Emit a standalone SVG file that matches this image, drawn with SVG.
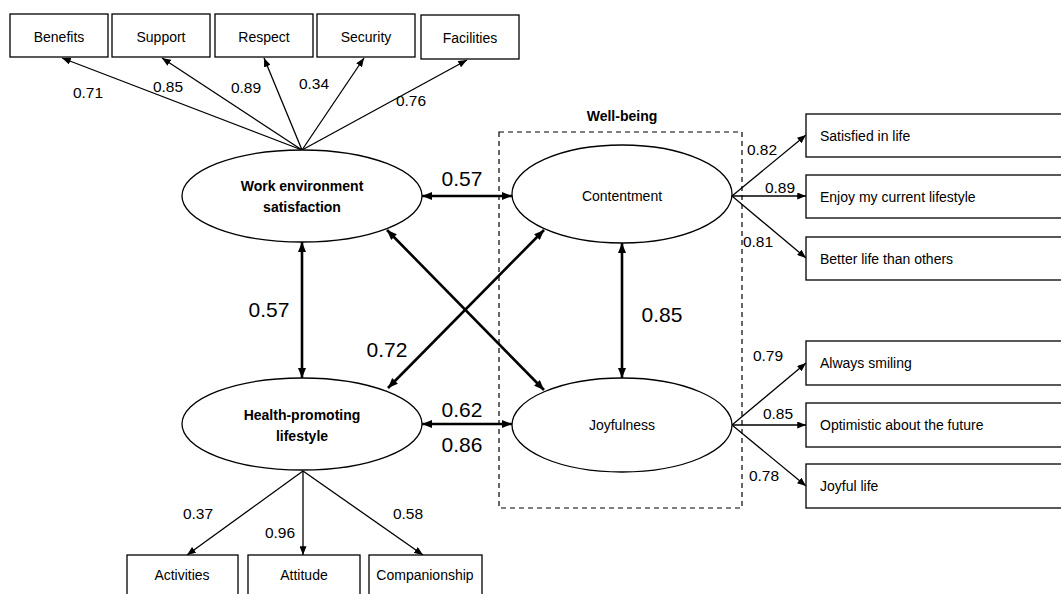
<svg xmlns="http://www.w3.org/2000/svg" width="1061" height="594" viewBox="0 0 1061 594">
<defs>
<style>
text{font-family:"Liberation Sans",Arial,sans-serif;fill:#000}
.box{fill:#fff;stroke:#000;stroke-width:1.3}
.ell{fill:#fff;stroke:#000;stroke-width:1.3}
.lbl{font-size:15.5px}
.nt{font-size:14px}
.big{font-size:21px}
.bold{font-weight:bold}
.thin{stroke:#000;stroke-width:1.3;fill:none;marker-end:url(#ah)}
.thick{stroke:#000;stroke-width:2.6;fill:none;marker-end:url(#ahb);marker-start:url(#ahbs)}
</style>
<marker id="ah" viewBox="0 0 10 8" refX="10" refY="4" markerWidth="9" markerHeight="7" markerUnits="userSpaceOnUse" orient="auto"><path d="M0,0 L10,4 L0,8 z" fill="#000"/></marker>
<marker id="ahb" viewBox="0 0 10 8" refX="10" refY="4" markerWidth="10" markerHeight="8" markerUnits="userSpaceOnUse" orient="auto"><path d="M0,0 L10,4 L0,8 z" fill="#000"/></marker>
<marker id="ahbs" viewBox="0 0 10 8" refX="0" refY="4" markerWidth="10" markerHeight="8" markerUnits="userSpaceOnUse" orient="auto"><path d="M10,0 L0,4 L10,8 z" fill="#000"/></marker>
</defs>
<rect width="1061" height="594" fill="#fff"/>

<g id="wellbeing">
<rect x="499" y="132" width="243" height="376" fill="none" stroke="#000" stroke-width="1.2" stroke-dasharray="5,4"/>
<text x="622" y="121" text-anchor="middle" class="nt bold">Well-being</text>
</g>

<g id="connectors">
<line class="thin" x1="302" y1="150" x2="62" y2="58"/>
<line class="thin" x1="302" y1="150" x2="162" y2="58"/>
<line class="thin" x1="302" y1="150" x2="264" y2="58"/>
<line class="thin" x1="302" y1="150" x2="364" y2="58"/>
<line class="thin" x1="302" y1="150" x2="467" y2="60"/>
<line class="thin" x1="303" y1="471" x2="187" y2="555"/>
<line class="thin" x1="303" y1="471" x2="303" y2="555"/>
<line class="thin" x1="303" y1="471" x2="423" y2="555"/>
<line class="thin" x1="732" y1="196" x2="806" y2="135"/>
<line class="thin" x1="732" y1="196" x2="806" y2="196"/>
<line class="thin" x1="732" y1="196" x2="806" y2="258"/>
<line class="thin" x1="732" y1="425" x2="806" y2="363"/>
<line class="thin" x1="732" y1="425" x2="806" y2="425"/>
<line class="thin" x1="732" y1="425" x2="806" y2="486"/>
<line class="thick" x1="422" y1="196" x2="512" y2="196"/>
<line class="thick" x1="302" y1="242" x2="302" y2="378"/>
<line class="thick" x1="422" y1="424" x2="512" y2="424"/>
<line class="thick" x1="622" y1="243" x2="622" y2="378"/>
<line class="thick" x1="387" y1="230" x2="544" y2="390"/>
<line class="thick" x1="388" y1="388" x2="544" y2="230"/>
<g class="lbl">
<text x="88" y="98" text-anchor="middle">0.71</text>
<text x="168" y="92" text-anchor="middle">0.85</text>
<text x="246" y="93" text-anchor="middle">0.89</text>
<text x="314" y="89" text-anchor="middle">0.34</text>
<text x="411" y="106" text-anchor="middle">0.76</text>
<text x="198" y="519" text-anchor="middle">0.37</text>
<text x="280" y="538" text-anchor="middle">0.96</text>
<text x="408" y="519" text-anchor="middle">0.58</text>
<text x="762" y="155" text-anchor="middle">0.82</text>
<text x="780" y="193" text-anchor="middle">0.89</text>
<text x="758" y="247" text-anchor="middle">0.81</text>
<text x="768" y="361" text-anchor="middle">0.79</text>
<text x="778" y="419" text-anchor="middle">0.85</text>
<text x="764" y="481" text-anchor="middle">0.78</text>
</g>
<g class="big">
<text x="462" y="186" text-anchor="middle">0.57</text>
<text x="269" y="317" text-anchor="middle">0.57</text>
<text x="387" y="357" text-anchor="middle">0.72</text>
<text x="662" y="322" text-anchor="middle">0.85</text>
<text x="462" y="417" text-anchor="middle">0.62</text>
<text x="462" y="452" text-anchor="middle">0.86</text>
</g>
</g>

<g id="benefits"><rect class="box" x="10" y="14" width="98" height="43"/><text class="nt" x="59" y="42" text-anchor="middle">Benefits</text></g>
<g id="support"><rect class="box" x="112" y="14" width="98" height="43"/><text class="nt" x="161" y="42" text-anchor="middle">Support</text></g>
<g id="respect"><rect class="box" x="215" y="14" width="98" height="43"/><text class="nt" x="264" y="42" text-anchor="middle">Respect</text></g>
<g id="security"><rect class="box" x="317" y="14" width="98" height="43"/><text class="nt" x="366" y="42" text-anchor="middle">Security</text></g>
<g id="facilities"><rect class="box" x="421" y="15" width="98" height="44"/><text class="nt" x="470" y="43" text-anchor="middle">Facilities</text></g>

<g id="work"><ellipse class="ell" cx="302" cy="196" rx="120" ry="46"/><text class="nt bold" x="302" y="191" text-anchor="middle">Work environment</text><text class="nt bold" x="302" y="212" text-anchor="middle">satisfaction</text></g>
<g id="health"><ellipse class="ell" cx="302" cy="424" rx="120" ry="46"/><text class="nt bold" x="302" y="420" text-anchor="middle">Health-promoting</text><text class="nt bold" x="302" y="441" text-anchor="middle">lifestyle</text></g>
<g id="contentment"><ellipse class="ell" cx="622" cy="194" rx="110" ry="49"/><text class="nt" x="622" y="201" text-anchor="middle">Contentment</text></g>
<g id="joyfulness"><ellipse class="ell" cx="622" cy="425" rx="110" ry="47"/><text class="nt" x="622" y="430" text-anchor="middle">Joyfulness</text></g>

<g id="satisfied"><rect class="box" x="806" y="114" width="270" height="43"/><text class="nt" x="820" y="141">Satisfied in life</text></g>
<g id="enjoy"><rect class="box" x="806" y="175" width="270" height="43"/><text class="nt" x="820" y="202">Enjoy my current lifestyle</text></g>
<g id="better"><rect class="box" x="806" y="237" width="270" height="43"/><text class="nt" x="820" y="264">Better life than others</text></g>
<g id="smiling"><rect class="box" x="806" y="341" width="270" height="44"/><text class="nt" x="820" y="368">Always smiling</text></g>
<g id="optimistic"><rect class="box" x="806" y="403" width="270" height="44"/><text class="nt" x="820" y="430">Optimistic about the future</text></g>
<g id="joyful"><rect class="box" x="806" y="464" width="270" height="44"/><text class="nt" x="820" y="491">Joyful life</text></g>

<g id="activities"><rect class="box" x="127" y="555" width="111" height="50"/><text class="nt" x="182" y="580" text-anchor="middle">Activities</text></g>
<g id="attitude"><rect class="box" x="248" y="555" width="112" height="50"/><text class="nt" x="304" y="580" text-anchor="middle">Attitude</text></g>
<g id="companionship"><rect class="box" x="369" y="555" width="113" height="50"/><text class="nt" x="425" y="580" text-anchor="middle">Companionship</text></g>
</svg>
